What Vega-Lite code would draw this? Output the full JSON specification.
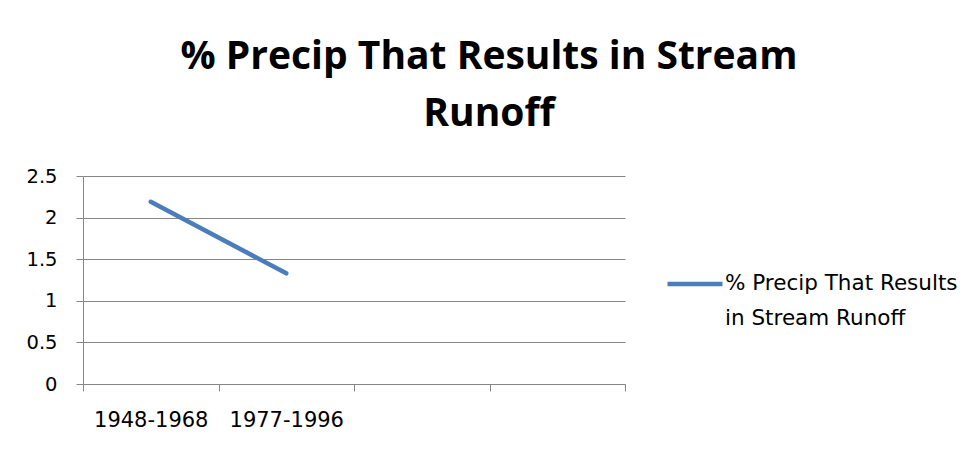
{
  "$schema": "https://vega.github.io/schema/vega-lite/v6.json",
  "autosize": "none",
  "width": 542,
  "height": 208,
  "padding": {"left": 83, "top": 176, "right": 344, "bottom": 65},
  "background": "white",
  "title": {
    "text": ["% Precip That Results in Stream", "Runoff"],
    "font": "Open Sans",
    "fontSize": 39,
    "fontWeight": "bold",
    "color": "black",
    "lineHeight": 57,
    "anchor": "middle",
    "dx": 135,
    "offset": 32,
    "limit": 900
  },
  "data": {
    "values": [
      {"period": "1948-1968", "value": 2.19, "series": "% Precip That Results in Stream Runoff"},
      {"period": "1977-1996", "value": 1.33, "series": "% Precip That Results in Stream Runoff"}
    ]
  },
  "mark": {"type": "line", "strokeWidth": 4.5, "strokeCap": "round"},
  "encoding": {
    "x": {
      "field": "period",
      "type": "nominal",
      "scale": {"domain": ["1948-1968", "1977-1996", " ", "  "], "paddingInner": 0, "paddingOuter": 0},
      "axis": {
        "title": null,
        "labelAngle": 0,
        "tickBand": "extent",
        "tickSize": 7,
        "tickColor": "#868686",
        "domainColor": "#868686",
        "labelFont": "DejaVu Sans",
        "labelFontSize": 21,
        "labelColor": "black",
        "labelPadding": 18,
        "grid": false
      }
    },
    "y": {
      "field": "value",
      "type": "quantitative",
      "scale": {"domain": [0, 2.5], "nice": false},
      "axis": {
        "title": null,
        "values": [0, 0.5, 1, 1.5, 2, 2.5],
        "format": ".1~f",
        "grid": true,
        "gridColor": "#868686",
        "tickColor": "#868686",
        "domainColor": "#868686",
        "tickSize": 7,
        "labelFont": "DejaVu Sans",
        "labelFontSize": 19.5,
        "labelColor": "black",
        "labelPadding": 19
      }
    },
    "color": {
      "field": "series",
      "type": "nominal",
      "scale": {"range": ["#4A7EBB"]},
      "legend": {
        "title": null,
        "orient": "none",
        "legendX": 582,
        "legendY": 78,
        "symbolType": "stroke",
        "symbolSize": 3025,
        "symbolStrokeWidth": 4.5,
        "labelFont": "DejaVu Sans",
        "labelFontSize": 21.5,
        "labelColor": "black",
        "labelLimit": 400,
        "labelOffset": 0,
        "labelExpr": "['% Precip That Results', 'in Stream Runoff']"
      }
    }
  },
  "config": {
    "view": {"stroke": null},
    "style": {"guide-label": {"lineHeight": 35}}
  }
}
